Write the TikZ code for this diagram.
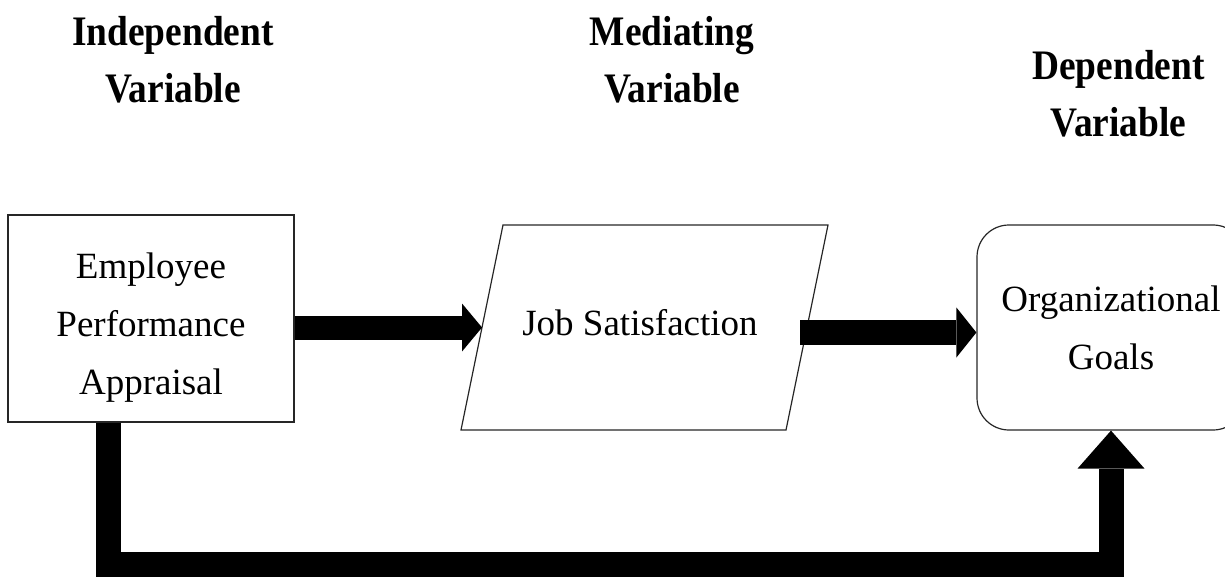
\documentclass[tikz,border=0pt]{standalone}
\usepackage{fontspec}
\setmainfont{Liberation Serif}
\newfontfamily\headfont[FakeStretch=0.89]{Liberation Serif}
\usetikzlibrary{arrows.meta,positioning}

\tikzset{
  varhead/.style={align=center, font=\headfont\bfseries\fontsize{42pt}{57pt}\selectfont},
  boxtext/.style={align=center, font=\fontsize{37pt}{58pt}\selectfont},
  outline/.style={draw=black!85, line width=1.2pt},
  thickflow/.style={line width=24pt, -{Triangle[length=20pt,width=48pt,line width=0pt]}},
}

\begin{document}
\begin{tikzpicture}[x=1pt, y=-1pt]
  \useasboundingbox (0,0) rectangle (1225,577);
  \clip (0,0) rectangle (1225,577);

  % column headings
  \node[varhead] (indep) at (173,60) {Independent\\Variable};
  \node[varhead] (medi) at (672,60) {Mediating\\Variable};
  \node[varhead] (dep) at (1118.5,94) {Dependent\\Variable};

  % the three variables
  \node[outline, minimum width=286pt, minimum height=207pt] (emp) at (151,318.5) {};
  \node[boxtext] (empLabel) at (151,327.5) {Employee\\Performance\\Appraisal};
  \node[boxtext] (job) at (640,322.5) {Job Satisfaction};
  \draw[outline] (503,225) -- (828,225) -- (786,430) -- (461,430) -- cycle;
  \coordinate (jobIn) at (482,327.5);
  \coordinate (jobOut) at (800,332.5);
  \node[outline, boxtext, rounded corners=32pt, minimum width=268pt,
        minimum height=205pt] (org) at (1111,327.5) {Organizational\\Goals};

  % paths
  \draw[thickflow] (emp.east |- jobIn) -- (jobIn);
  \draw[thickflow, line width=25pt, -{Triangle[length=20pt,width=50pt,line width=0pt]}]
    (jobOut) -- (org.west |- jobOut);
  \draw[thickflow, line width=25pt, line join=miter, -{Triangle[length=38pt,width=67pt,line width=0pt]}]
    ([xshift=-42.5pt]emp.south) -- ++(0,141.5) -| (org.south);
\end{tikzpicture}
\end{document}
